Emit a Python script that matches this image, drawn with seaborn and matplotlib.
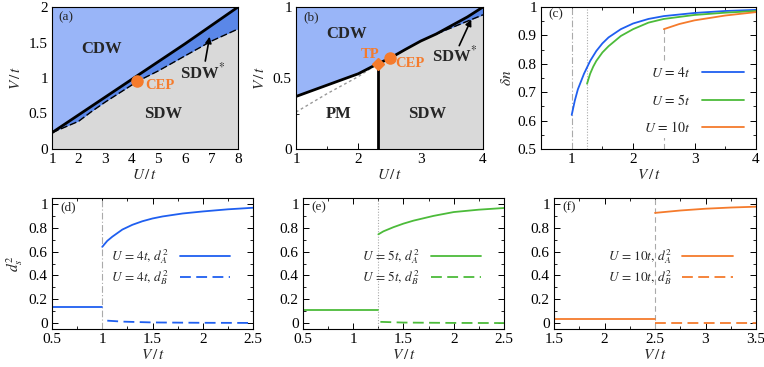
import numpy as np
import pandas as pd
import matplotlib
matplotlib.use("Agg")
import matplotlib.pyplot as plt
from matplotlib.ticker import MultipleLocator, FuncFormatter
import seaborn as sns

sns.set_theme(style="ticks")
plt.rcParams['font.family'] = ['Liberation Serif', 'DejaVu Serif']
plt.rcParams['mathtext.fontset'] = 'stix'
plt.rcParams['xtick.direction'] = 'in'
plt.rcParams['ytick.direction'] = 'in'
plt.rcParams['xtick.top'] = True
plt.rcParams['ytick.right'] = True
plt.rcParams['axes.linewidth'] = 0.8

# ---------------- data ----------------
# panel (a)
a_U = [1, 1.5, 2, 2.5, 3, 3.5, 4, 4.2, 5, 6, 7, 8]
a_V_cdw = [0.23, 0.355, 0.48, 0.605, 0.73, 0.855, 0.98, 1.03, 1.23, 1.48, 1.74, 2.0]
a_V_sdw = [0.23, 0.31, 0.39, 0.53, 0.66, 0.78, 0.90, 0.95, 1.10, 1.31, 1.52, 1.69]
a_cep = (4.2, 0.96)

# panel (b)
b_U = [1, 1.25, 1.5, 1.75, 2, 2.31, 2.51, 2.75, 3, 3.25, 3.5, 3.75, 4]
b_V_cdw = [0.37, 0.41, 0.45, 0.49, 0.53, 0.60, 0.64, 0.70, 0.76, 0.81, 0.87, 0.93, 1.0]
b_U_sdws = [3.25, 3.5, 3.75, 4]
b_V_sdws = [0.81, 0.855, 0.90, 0.945]
b_U_pm = [1, 1.5, 2, 2.31]
b_V_pm = [0.26, 0.39, 0.51, 0.60]
b_tp = (2.31, 0.60)
b_cep = (2.51, 0.64)

# panel (c)
c_V4 = [1.0, 1.05, 1.1, 1.2, 1.3, 1.4, 1.5, 1.6, 1.8, 2.0, 2.25, 2.5, 3.0, 3.5, 4.0]
c_n4 = [0.62, 0.67, 0.71, 0.765, 0.81, 0.845, 0.872, 0.893, 0.922, 0.942, 0.958, 0.968, 0.979, 0.986, 0.99]
c_V5 = [1.25, 1.3, 1.35, 1.4, 1.5, 1.6, 1.8, 2.0, 2.25, 2.5, 3.0, 3.5, 4.0]
c_n5 = [0.73, 0.765, 0.79, 0.81, 0.84, 0.862, 0.898, 0.922, 0.945, 0.958, 0.972, 0.98, 0.986]
c_V10 = [2.5, 2.75, 3.0, 3.5, 4.0]
c_n10 = [0.922, 0.94, 0.953, 0.97, 0.982]

# panel (d) U=4
d_Vlow = [0.5, 1.0]
d_low = [0.135, 0.135]
d_VA = [1.0, 1.05, 1.1, 1.2, 1.3, 1.4, 1.5, 1.6, 1.8, 2.0, 2.25, 2.5]
d_A = [0.64, 0.69, 0.725, 0.785, 0.825, 0.855, 0.878, 0.895, 0.92, 0.937, 0.955, 0.968]
d_VB = [1.05, 1.2, 1.5, 2.0, 2.5]
d_B = [0.02, 0.012, 0.005, 0.002, 0.001]

# panel (e) U=5
e_Vlow = [0.5, 1.25]
e_low = [0.108, 0.108]
e_VA = [1.25, 1.3, 1.4, 1.5, 1.6, 1.8, 2.0, 2.25, 2.5]
e_A = [0.745, 0.77, 0.805, 0.835, 0.86, 0.9, 0.932, 0.952, 0.966]
e_VB = [1.27, 1.5, 2.0, 2.5]
e_B = [0.01, 0.004, 0.001, 0.0]

# panel (f) U=10
f_Vlow = [1.5, 2.5]
f_low = [0.038, 0.038]
f_VA = [2.5, 2.75, 3.0, 3.25, 3.5]
f_A = [0.925, 0.945, 0.96, 0.97, 0.977]
f_VB = [2.5, 3.5]
f_B = [0.0, 0.0]

C_CDW = '#99b5f8'
C_SDWS = '#5a87e8'
C_SDW = '#d9d9d9'
C_BLUE = '#1f5ff0'
C_GREEN = '#4cbb3a'
C_ORANGE = '#f57b2c'
C_VL = '#aaaaaa'

W, H = 764, 367
fig = plt.figure(figsize=(W / 100, H / 100), dpi=100)


def mk(l, r, t, b):
    return fig.add_axes([l / W, (H - b) / H, (r - l) / W, (b - t) / H])


fmt = FuncFormatter(lambda v, p: '%g' % round(v, 6))


def style(ax):
    ax.tick_params(which='major', length=4, width=0.7, labelsize=11, pad=3, colors='black')
    ax.tick_params(which='minor', length=2, width=0.6, colors='black')
    ax.xaxis.set_major_formatter(fmt)
    ax.yaxis.set_major_formatter(fmt)
    for s in ax.spines.values():
        s.set_color('black')


def line(ax, x, y, color, **kw):
    sns.lineplot(x=x, y=y, ax=ax, color=color, sort=False, estimator=None, **kw)


# ---------------- (a) ----------------
axa = mk(52, 238, 7, 149)
axa.set_xlim(1, 8)
axa.set_ylim(0, 2)
aU = np.array(a_U)
axa.fill_between(aU, a_V_cdw, 2, color=C_CDW, lw=0)
axa.fill_between(aU, a_V_sdw, a_V_cdw, color=C_SDWS, lw=0)
axa.fill_between(aU, 0, a_V_sdw, color=C_SDW, lw=0)
line(axa, a_U, a_V_sdw, 'black', lw=1.0, linestyle=(0, (5, 2)))
line(axa, a_U, a_V_cdw, 'black', lw=2.0)
axa.plot(*a_cep, 'o', color=C_ORANGE, ms=8, zorder=5)
axa.text(2.87, 1.41, 'CDW', fontsize=12, fontweight='bold', ha='center', va='center')
axa.text(5.17, 0.49, 'SDW', fontsize=12, fontweight='bold', ha='center', va='center')
axa.text(6.68, 1.08, r'SDW$^{*}$', fontsize=12, fontweight='bold', ha='center', va='center')
axa.text(4.5, 0.89, 'CEP', fontsize=10.5, fontweight='bold', color=C_ORANGE, ha='left', va='center')
axa.annotate('', xy=(6.95, 1.62), xytext=(6.75, 1.2),
             arrowprops=dict(arrowstyle='-|>', color='black', lw=1.2, mutation_scale=9))
axa.text(1.25, 1.86, '(a)', fontsize=9.5, ha='left', va='center')
axa.xaxis.set_major_locator(MultipleLocator(1))
axa.xaxis.set_minor_locator(MultipleLocator(0.5))
axa.yaxis.set_major_locator(MultipleLocator(0.5))
axa.yaxis.set_minor_locator(MultipleLocator(0.25))
axa.set_xlabel(r'$U\,/\,t$', fontsize=11, labelpad=1)
axa.set_ylabel(r'$V\,/\,t$', fontsize=11, labelpad=4)
style(axa)

# ---------------- (b) ----------------
axb = mk(296, 483, 7, 149)
axb.set_xlim(1, 4)
axb.set_ylim(0, 1)
bU = np.array(b_U)
bV = np.array(b_V_cdw)
axb.fill_between(bU, bV, 1, color=C_CDW, lw=0)
axb.fill_between(bU, 0, bV, where=bU >= 2.31, color=C_SDW, lw=0)
axb.fill_between(b_U_sdws, b_V_sdws, b_V_cdw[-4:], color=C_SDWS, lw=0)
line(axb, b_U_pm, b_V_pm, '#999999', lw=1.0, linestyle=(0, (2, 2)))
line(axb, b_U_sdws, b_V_sdws, 'black', lw=1.0, linestyle=(0, (5, 2)))
line(axb, b_U, b_V_cdw, 'black', lw=2.0)
axb.plot([b_tp[0], b_tp[0]], [0, b_tp[1]], color='black', lw=2.0)
axb.plot(*b_tp, 'D', color=C_ORANGE, ms=6, zorder=5)
axb.plot(*b_cep, 'o', color=C_ORANGE, ms=8, zorder=5)
axb.text(1.81, 0.81, 'CDW', fontsize=12, fontweight='bold', ha='center', va='center')
axb.text(1.68, 0.25, 'PM', fontsize=12, fontweight='bold', ha='center', va='center')
axb.text(3.1, 0.25, 'SDW', fontsize=12, fontweight='bold', ha='center', va='center')
axb.text(3.55, 0.66, r'SDW$^{*}$', fontsize=12, fontweight='bold', ha='center', va='center')
axb.text(2.19, 0.665, 'TP', fontsize=10.5, fontweight='bold', color=C_ORANGE, ha='center', va='center')
axb.text(2.6, 0.60, 'CEP', fontsize=10.5, fontweight='bold', color=C_ORANGE, ha='left', va='center')
axb.annotate('', xy=(3.83, 0.93), xytext=(3.6, 0.71),
             arrowprops=dict(arrowstyle='-|>', color='black', lw=1.2, mutation_scale=9))
axb.text(1.12, 0.93, '(b)', fontsize=9.5, ha='left', va='center')
axb.xaxis.set_major_locator(MultipleLocator(1))
axb.xaxis.set_minor_locator(MultipleLocator(0.5))
axb.yaxis.set_major_locator(MultipleLocator(0.5))
axb.yaxis.set_minor_locator(MultipleLocator(0.25))
axb.set_xlabel(r'$U\,/\,t$', fontsize=11, labelpad=1)
axb.set_ylabel(r'$V\,/\,t$', fontsize=11, labelpad=4)
style(axb)

# ---------------- (c) ----------------
axc = mk(541, 756, 7, 149)
axc.set_xlim(0.5, 4)
axc.set_ylim(0.5, 1)
axc.axvline(1.0, color=C_VL, lw=0.8, linestyle=(0, (6, 2, 1, 2)))
axc.axvline(1.25, color=C_VL, lw=0.8, linestyle=(0, (1, 1.5)))
axc.plot([2.5, 2.5], [0.5, 0.925], color=C_VL, lw=0.8, linestyle=(0, (5, 3)))
line(axc, c_V4, c_n4, C_BLUE, lw=1.3, label=r'$U\,=\,4t$')
line(axc, c_V5, c_n5, C_GREEN, lw=1.3, label=r'$U\,=\,5t$')
line(axc, c_V10, c_n10, C_ORANGE, lw=1.3, label=r'$U\,=\,10t$')
leg = axc.legend(loc='lower right', bbox_to_anchor=(0.99, 0.03), markerfirst=False, fontsize=10,
                 frameon=True, edgecolor='none', framealpha=1, facecolor='white',
                 handlelength=3.0, labelspacing=0.9, handletextpad=0.8, borderpad=0.2)
axc.text(0.62, 0.975, '(c)', fontsize=9.5, ha='left', va='center')
axc.xaxis.set_major_locator(MultipleLocator(1))
axc.xaxis.set_minor_locator(MultipleLocator(0.5))
axc.yaxis.set_major_locator(MultipleLocator(0.1))
axc.yaxis.set_minor_locator(MultipleLocator(0.05))
axc.set_xlabel(r'$V\,/\,t$', fontsize=11, labelpad=1)
axc.set_ylabel(r'$\delta n$', fontsize=11, labelpad=3)
style(axc)

# ---------------- (d)-(f) ----------------
def lower(ax, vx, vstyle, xl, low, VA, A, VB, B, color, U, tag, xlim, ylabel=False):
    ax.set_xlim(*xlim)
    ax.set_ylim(-0.05, 1.05)
    ax.axvline(vx, color=C_VL, lw=0.8, linestyle=vstyle)
    line(ax, xl, low, color, lw=1.3)
    line(ax, VA, A, color, lw=1.3, label=r'$U\,=\,%st,\, d_A^2$' % U)
    line(ax, VB, B, color, lw=1.3, linestyle=(0, (6, 3)), label=r'$U\,=\,%st,\, d_B^2$' % U)
    ax.legend(loc='center right', bbox_to_anchor=(0.93, 0.47), markerfirst=False, fontsize=9.5,
              frameon=False, handlelength=3.8, labelspacing=0.2, handletextpad=0.8, borderpad=0.2)
    ax.text(0.04, 0.93, tag, fontsize=9.5, ha='left', va='center', transform=ax.transAxes)
    ax.xaxis.set_major_locator(MultipleLocator(0.5))
    ax.xaxis.set_minor_locator(MultipleLocator(0.25))
    ax.yaxis.set_major_locator(MultipleLocator(0.2))
    ax.yaxis.set_minor_locator(MultipleLocator(0.1))
    ax.set_xlabel(r'$V\,/\,t$', fontsize=11, labelpad=1)
    if ylabel:
        ax.set_ylabel(r'$d_s^2$', fontsize=11, labelpad=3)
    style(ax)


axd = mk(52, 253, 198, 329)
lower(axd, 1.0, (0, (6, 2, 1, 2)), d_Vlow, d_low, d_VA, d_A, d_VB, d_B, C_BLUE, '4', '(d)', (0.5, 2.5), True)
axe = mk(303, 504, 198, 329)
lower(axe, 1.25, (0, (1, 1.5)), e_Vlow, e_low, e_VA, e_A, e_VB, e_B, C_GREEN, '5', '(e)', (0.5, 2.5))
axf = mk(554, 756, 198, 329)
lower(axf, 2.5, (0, (5, 3)), f_Vlow, f_low, f_VA, f_A, f_VB, f_B, C_ORANGE, '10', '(f)', (1.5, 3.5))

fig.savefig('out.png', dpi=100)
